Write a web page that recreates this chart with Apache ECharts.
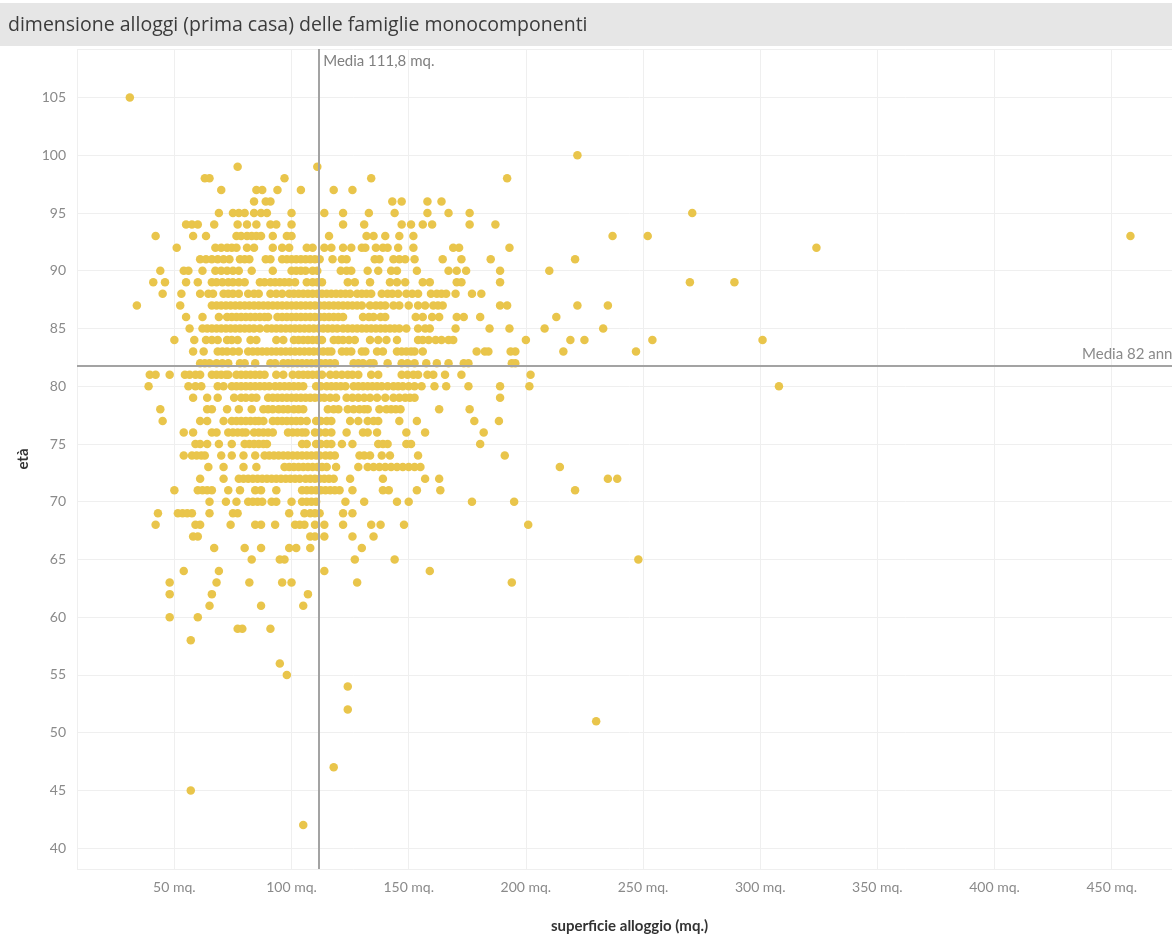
<!DOCTYPE html>
<html>
<head>
<meta charset="utf-8">
<script src="https://cdn.jsdelivr.net/npm/echarts@6/dist/echarts.min.js"></script>
<style>
html,body{margin:0;padding:0;background:#fff;overflow:hidden;width:1172px;height:934px;}
#c{width:1200px;height:934px;}
</style>
</head>
<body>
<div id="c"></div>
<script>
// ---- data ----
const titolo = 'dimensione alloggi (prima casa) delle famiglie monocomponenti';
const xTickStep = 50;   // mq.
const yTickStep = 5;    // anni
const mediaSuperficie = 111.8;
const mediaEta = 81.8;
const etichettaMediaX = 'Media 111,8 mq.';
const etichettaMediaY = 'Media 82 anni';

// ages (one row of points per age)
const eta = [105,100,99,98,97,96,95,94,93,92,91,90,89,88,87,86,85,84,83,82,81,80,79,78,77,76,75,74,73,72,71,70,69,68,67,66,65,64,63,62,61,60,59,58,56,55,54,52,51,47,45,42];
// floor areas (mq.) of the points in each age row, same order as `eta`
const superficiePerEta = [
 [31],
 [222],
 [77,111],
 [63,65,97,134,192],
 [70,85,87.5,94,104,118,126],
 [84,89,91,143,147,158,164],
 [69,75,77.5,80,84,87,89.5,100,114,122,133,144,158,167,176,271],
 [55,57.5,60,67,77,81,85,91,93.5,100,122,131,147,151,156,160,176,187],
 [42,58,63.5,76.5,78.5,81,83,85,87,92,98,100,116,132,135,140,146,152,237,252,458],
 [51,67.5,70,72.5,74.5,76.5,81,84,92,96,99,106.5,109,114,117,122,125.5,130,131.5,136,139,141,145.5,152,169,171.5,193,324],
 [61,63.5,66,68.5,71,73.5,78,80,82,89,91,96,98,100,102,104,106,108,110,112,117.5,121.5,123.5,135.5,137.5,143.5,146,148.5,152.5,164.5,172.5,185,221],
 [44,54,56,62,67.5,70,72.5,75,77.5,83,92,100,102,104,106,109,111,121,123.5,125.5,132.5,137,142.5,145,153.5,167,170.5,174.5,189,210],
 [41,46,55,60,66,68,70.5,73,75,77.5,80,86.5,88.5,91,93,95,97,99,101.5,106.5,109,111,113,124,127,133.5,142,145,148.5,156,159,170.5,172.5,189,270,289],
 [45,53,61,64.5,66.5,71,73,75,77.5,81.5,84,86,91,93.5,96,99,101,103,105,107,109,111,113,115,117,119,121,123,125,128,130,132,134,138.5,141,143,145.5,149,151.5,154,159.5,162,164,166,170,177,181],
 [34,52.5,66,68,70,72,74,76,78,80,82,84,86,88,90,92,94,96,98,100,102,104,106,108,110,112,114,116,118,120,122,124,126,128,130,133.5,136,138,140,143.5,146,150,154,157,160.5,162.5,164.5,189,192,222,235],
 [55,62,69,72.5,74.5,76.5,78.5,80.5,82.5,84.5,86.5,88.5,90,94,96,98,100,102,104,106,108,110,112,114,116,118,120,122,130.5,133,135,138,140,153,156,160,163,170.5,173.5,180.5,213],
 [56.5,62,64,66,68,70,72,74,76,78,80,82,84,86.5,89.5,91.5,93.5,95.5,97.5,99.5,101.5,103.5,105.5,107.5,109.5,111.5,113.5,115.5,117.5,119.5,122,124,126,128,130,132,134,136,138,140,142,144,146,149,154,157,159,170,184.5,193,208,233],
 [50,58.5,63.5,66,68.5,72.5,74.5,77,82.5,85,93.5,96.5,101,103,105,107,109,111,113,118,120,122,124.5,127,133.5,137,140.5,145,154,156,158.5,161.5,164,167,169,200,219,225,254,301],
 [58,62.5,68.5,70.5,72.5,75,77.5,81.5,83.5,85.5,87.5,89.5,91.5,93.5,95.5,97.5,99.5,101.5,103.5,105.5,107.5,109.5,111.5,113.5,115.5,117,121.5,123.5,125.5,130,131.5,136.5,139,145,147,149,151,152.5,156,179,182.5,184,193.5,195.5,216,247],
 [61,63,65,68,70.5,73,78,80,84.5,91,93,96.5,98.5,100.5,102.5,104.5,106.5,108.5,110.5,112.5,114.5,116.5,118.5,126.5,128.5,130.5,133.5,135,141,147,149.5,152.5,157.5,162,167,173.5,175.5,194,195.5],
 [39.5,42,48,54.5,56.5,59,61,66,68,70,72,73,76.5,78.5,80.5,82.5,84.5,86.5,88.5,93.5,96.5,100.5,103,105,107,109,111,113,116.5,119,121.5,124,126,128.5,134,137,147,149.5,152,154,158,160.5,165.5,172.5,202],
 [39,56,59,61.5,68.5,71,74.5,76.5,78.5,80.5,82.5,84.5,86.5,88.5,90.5,93,95,97,99,101,103,105,110.5,112.5,115,117,119,121,123,126.5,128.5,130.5,132.5,134.5,136.5,138.5,141,143.5,145.5,147.5,150,152.5,155.5,161,166,175.5,189,201.5,308],
 [58,64,68.5,75.5,78.5,80.5,83,85,90,92,94,96,98,100,102,104,106,108,110,112,114,116.5,119,123.5,126,128.5,131,133.5,136.5,140,143.5,146,148.5,150.5,152.5,189],
 [44,64,66,72.5,77.5,83,88,90,92,94.5,96.5,98.5,101,103,105,115.5,118,120,124,126.5,129,131,132.5,137.5,140.5,142.5,144.5,146.5,163,176],
 [45,61,64,71,74.5,76.5,78.5,80.5,82.5,84.5,86,88,92,94,96,98,100,102,104,106.5,110.5,112.5,115,117,125,128.5,132.5,135,137,146,153.5,178,188.5],
 [54,58,66,68,73,75,77,79,80.5,84,86,88,90,92,98.5,100.5,102.5,104.5,106,110,112,114.5,117,123.5,130.5,132.5,136.5,149,157,182],
 [59,61,64,69,74.5,80,82,84,86,88,89.5,104.5,106.5,110.5,112.5,115,117,121.5,126,137,139,141,149,151,180.5],
 [54,57.5,59.5,61.5,63,70,74.5,79.5,84.5,88.5,90.5,92.5,94.5,96.5,98.5,100.5,102.5,104.5,106.5,108.5,110.5,112,114.5,116.5,118.5,129,131,133.5,138.5,142,154,191],
 [64.5,71,79.5,85,97,99,101,103,105,107,109,111,113,115,119,128.5,132.5,135,137.5,140,142.5,145,147.5,150,152.5,155,214.5],
 [61,71,77.5,79.5,81.5,83.5,85.5,87.5,89.5,91.5,93.5,95.5,97.5,99.5,101.5,103.5,106,108,110,112,114,116,118,125,139,157,163,235,239],
 [50,60,62,64,66,73,78,84.5,87,93.5,104.5,106.5,108.5,110.5,112.5,114.5,116.5,118.5,120.5,126,139,141.5,153.5,163.5,221],
 [65,72,76.5,81.5,83.5,85.5,87.5,91.5,93.5,100,104.5,106.5,108.5,110.5,123,131,145,150,177,195],
 [43,51.5,53.5,55.5,57.5,65,75,77,99,105.5,108,110,112,122,126],
 [42,59,61,74,84.5,87,93,101.5,103.5,105.5,110,114,122,134,138,148,201],
 [58,60,108,110,114,126,135],
 [67,80,87,99,102,108,130],
 [83,95,97,127,144,248],
 [54,69,114,159],
 [48,68,82,96,100,128,194],
 [48,66,107],
 [65,87,105],
 [48,60],
 [77,79,91],
 [57],
 [95],
 [98],
 [124],
 [124],
 [230],
 [118],
 [57],
 [105]
];

// ---- chart ----
const points = [];
eta.forEach((a, i) => superficiePerEta[i].forEach(s => points.push([s, a])));

const xMin = 8.45, xMax = 480, yMin = 38.2, yMax = 109.2;
const FONT = 'Lato, "Open Sans", sans-serif';
const TFONT = '"Open Sans", Lato, sans-serif';
const chart = echarts.init(document.getElementById('c'), null, {renderer: 'canvas'});

chart.setOption({
  animation: false,
  backgroundColor: '#ffffff',
  grid: {left: 77, top: 49, width: 1105, height: 820, containLabel: false, outerBoundsMode: 'none'},
  xAxis: {
    type: 'value', min: xMin, max: xMax,
    minInterval: xTickStep, maxInterval: xTickStep,
    name: 'superficie alloggio (mq.)', nameLocation: 'middle', nameGap: 50,
    nameTextStyle: {fontFamily: FONT, fontSize: 15, color: '#333', fontWeight: 'bold'},
    axisLine: {show: false}, axisTick: {show: false},
    axisLabel: {
      fontFamily: FONT, fontSize: 14, color: '#8a8a8a', margin: 11,
      showMinLabel: true, showMaxLabel: true,
      formatter: v => (Math.abs(v % xTickStep) < 1e-6 ? v + ' mq.' : '')
    },
    splitLine: {show: true, lineStyle: {color: '#efefef', width: 1}}
  },
  yAxis: {
    type: 'value', min: yMin, max: yMax,
    minInterval: yTickStep, maxInterval: yTickStep,
    name: 'età', nameLocation: 'middle', nameGap: 44, nameRotate: 90,
    nameTextStyle: {fontFamily: FONT, fontSize: 15, color: '#333', fontWeight: 'bold'},
    axisLine: {show: false}, axisTick: {show: false},
    axisLabel: {
      fontFamily: FONT, fontSize: 14, color: '#8a8a8a', margin: 11,
      formatter: v => (Math.abs(v % yTickStep) < 1e-6 ? String(v) : '')
    },
    splitLine: {show: true, lineStyle: {color: '#efefef', width: 1}}
  },
  series: [{
    type: 'scatter',
    data: points,
    symbolSize: 8.5,
    itemStyle: {color: '#e9c54b', opacity: 1},
    markLine: {
      silent: true, symbol: 'none', animation: false,
      lineStyle: {color: '#a3a3a3', width: 2, type: 'solid'},
      data: [
        {xAxis: mediaSuperficie, label: {show: false}},
        {yAxis: mediaEta, label: {show: true, position: 'insideEndTop', formatter: etichettaMediaY,
          fontFamily: FONT, fontSize: 15, color: '#8a8a8a', distance: [6, 4]}}
      ]
    }
  }],
  graphic: [
    {id: 'bar', type: 'rect', left: 0, top: 3, shape: {width: 1200, height: 43}, style: {fill: '#e6e6e6'}, z: -1},
    {id: 'title', type: 'text', left: 8, top: 15,
     style: {text: titolo, fontFamily: TFONT, fontSize: 19.5, fill: '#3b3b3b'}}
  ]
});

const p = chart.convertToPixel({gridIndex: 0}, [mediaSuperficie, yMax]);
chart.setOption({
  graphic: [
    {id: 'bar'}, {id: 'title'},
    {id: 'mx', type: 'text', left: p[0] + 4, top: p[1] + 5,
     style: {text: etichettaMediaX, fontFamily: FONT, fontSize: 15, fill: '#7f7f7f'}}
  ]
});
</script>
</body>
</html>
